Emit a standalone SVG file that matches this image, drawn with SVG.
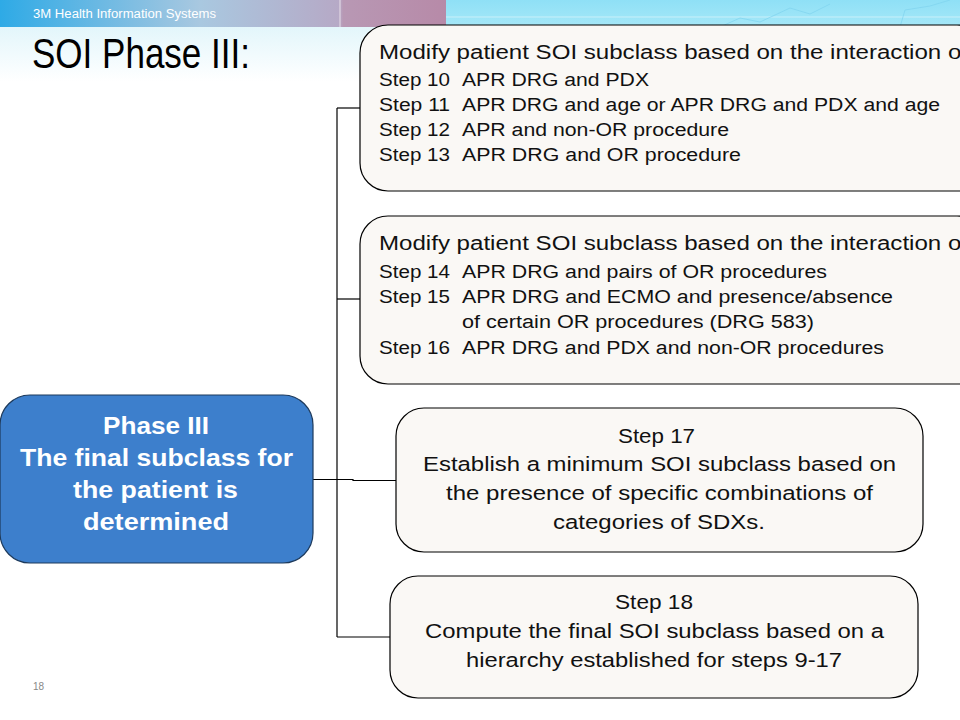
<svg xmlns="http://www.w3.org/2000/svg" width="960" height="720" viewBox="0 0 960 720">
  <defs>
    <linearGradient id="band" x1="0" y1="0" x2="1" y2="0">
      <stop offset="0" stop-color="#2eaae6"/>
      <stop offset="0.45" stop-color="#a9c8e0"/>
      <stop offset="0.76" stop-color="#b6a9c6"/>
      <stop offset="0.77" stop-color="#b898b4"/>
      <stop offset="1" stop-color="#b78aa8"/>
    </linearGradient>
    <linearGradient id="fadeL" x1="0" y1="0" x2="0" y2="1">
      <stop offset="0" stop-color="#e3f6fb"/>
      <stop offset="1" stop-color="#ffffff"/>
    </linearGradient>
    <linearGradient id="fadeR" x1="0" y1="0" x2="0" y2="1">
      <stop offset="0" stop-color="#8fe0f6"/>
      <stop offset="1" stop-color="#a6e8f8"/>
    </linearGradient>
    <style>
      .box { fill: #faf8f5; stroke: #000; stroke-width: 1.2; }
      .blue { fill: #3d7fcc; stroke: #1d3a5c; stroke-width: 1.2; }
      .conn { fill: none; stroke: #000; stroke-width: 1.2; }
      .t { font-family: "Liberation Sans", Arial, sans-serif; fill: #111; }
      .hd { font-size: 19.5px; }
      .st { font-size: 18px; }
      .ct { font-size: 20.5px; }
      .wt { font-family: "Liberation Sans", Arial, sans-serif; fill: #fff; font-weight: bold; font-size: 24px; }
    </style>
  </defs>

  <rect x="0" y="0" width="960" height="720" fill="#fff"/>
  <!-- header -->
  <rect x="0" y="27" width="450" height="55" fill="url(#fadeL)"/>
  <rect x="0" y="0" width="446" height="27" fill="url(#band)"/>
  <line x1="340" y1="0" x2="340" y2="27" stroke="#e8e0ea" stroke-width="1"/>
  <rect x="446" y="0" width="514" height="27" fill="url(#fadeR)"/>
  <rect x="446" y="27" width="514" height="10" fill="#d8f4fb"/>
  <line x1="446" y1="17" x2="960" y2="17" stroke="#c8f0fa" stroke-width="1"/>
  <path d="M720 27 L740 18 L760 22 L790 8 L810 14 L830 4 M900 27 L905 10 L930 6 L950 0" fill="none" stroke="#7fd3ee" stroke-width="1" opacity="0.7"/>
  <text x="33" y="18" class="t" style="font-size:12px;fill:#fff" textLength="183" lengthAdjust="spacingAndGlyphs">3M Health Information Systems</text>
  <text x="32" y="68" class="t" style="font-size:42px;fill:#000" textLength="218" lengthAdjust="spacingAndGlyphs">SOI Phase III:</text>
  <text x="33" y="690" class="t" style="font-size:10px;fill:#888">18</text>

  <!-- connectors -->
  <g id="connectors">
    <path class="conn" d="M313 479.5 H353 V480.5 H396"/>
    <path class="conn" d="M337 108 V637"/>
    <path class="conn" d="M337 108 H360"/>
    <path class="conn" d="M337 299 H360"/>
    <path class="conn" d="M337 637 H390"/>
  </g>

  <g id="phase3">
    <rect class="blue" x="0" y="395" width="313" height="168" rx="30"/>
    <text class="wt" x="103" y="434" textLength="106" lengthAdjust="spacingAndGlyphs">Phase III</text>
    <text class="wt" x="20" y="466" textLength="273" lengthAdjust="spacingAndGlyphs">The final subclass for</text>
    <text class="wt" x="73" y="498" textLength="165" lengthAdjust="spacingAndGlyphs">the patient is</text>
    <text class="wt" x="83" y="530" textLength="146" lengthAdjust="spacingAndGlyphs">determined</text>
  </g>

  <g id="steps10-13">
    <rect class="box" x="360" y="25" width="625" height="166" rx="28"/>
    <text class="t hd" x="379" y="59" textLength="589" lengthAdjust="spacingAndGlyphs">Modify patient SOI subclass based on the interaction of</text>
    <text class="t st" x="379" y="86" textLength="71" lengthAdjust="spacingAndGlyphs">Step 10</text><text class="t st" x="462" y="86" textLength="187" lengthAdjust="spacingAndGlyphs">APR DRG and PDX</text>
    <text class="t st" x="379" y="111" textLength="71" lengthAdjust="spacingAndGlyphs">Step 11</text><text class="t st" x="462" y="111" textLength="478" lengthAdjust="spacingAndGlyphs">APR DRG and age or APR DRG and PDX and age</text>
    <text class="t st" x="379" y="136" textLength="71" lengthAdjust="spacingAndGlyphs">Step 12</text><text class="t st" x="462" y="136" textLength="267" lengthAdjust="spacingAndGlyphs">APR and non-OR procedure</text>
    <text class="t st" x="379" y="161" textLength="71" lengthAdjust="spacingAndGlyphs">Step 13</text><text class="t st" x="462" y="161" textLength="279" lengthAdjust="spacingAndGlyphs">APR DRG and OR procedure</text>
  </g>

  <g id="steps14-16">
    <rect class="box" x="360" y="216" width="625" height="168" rx="28"/>
    <text class="t hd" x="379" y="250" textLength="589" lengthAdjust="spacingAndGlyphs">Modify patient SOI subclass based on the interaction of</text>
    <text class="t st" x="379" y="278" textLength="71" lengthAdjust="spacingAndGlyphs">Step 14</text><text class="t st" x="462" y="278" textLength="365" lengthAdjust="spacingAndGlyphs">APR DRG and pairs of OR procedures</text>
    <text class="t st" x="379" y="303" textLength="71" lengthAdjust="spacingAndGlyphs">Step 15</text><text class="t st" x="462" y="303" textLength="431" lengthAdjust="spacingAndGlyphs">APR DRG and ECMO and presence/absence</text>
    <text class="t st" x="462" y="328" textLength="352" lengthAdjust="spacingAndGlyphs">of certain OR procedures (DRG 583)</text>
    <text class="t st" x="379" y="354" textLength="71" lengthAdjust="spacingAndGlyphs">Step 16</text><text class="t st" x="462" y="354" textLength="422" lengthAdjust="spacingAndGlyphs">APR DRG and PDX and non-OR procedures</text>
  </g>

  <g id="step17">
    <rect class="box" x="396" y="408" width="527" height="144" rx="28"/>
    <text class="t ct" x="618" y="443" textLength="77" lengthAdjust="spacingAndGlyphs">Step 17</text>
    <text class="t ct" x="423" y="471" textLength="473" lengthAdjust="spacingAndGlyphs">Establish a minimum SOI subclass based on</text>
    <text class="t ct" x="446" y="500" textLength="427" lengthAdjust="spacingAndGlyphs">the presence of specific combinations of</text>
    <text class="t ct" x="553" y="529" textLength="212" lengthAdjust="spacingAndGlyphs">categories of SDXs.</text>
  </g>

  <g id="step18">
    <rect class="box" x="390" y="576" width="528" height="122" rx="28"/>
    <text class="t ct" x="615" y="609" textLength="78" lengthAdjust="spacingAndGlyphs">Step 18</text>
    <text class="t ct" x="425" y="638" textLength="459" lengthAdjust="spacingAndGlyphs">Compute the final SOI subclass based on a</text>
    <text class="t ct" x="466" y="667" textLength="376" lengthAdjust="spacingAndGlyphs">hierarchy established for steps 9-17</text>
  </g>
</svg>
